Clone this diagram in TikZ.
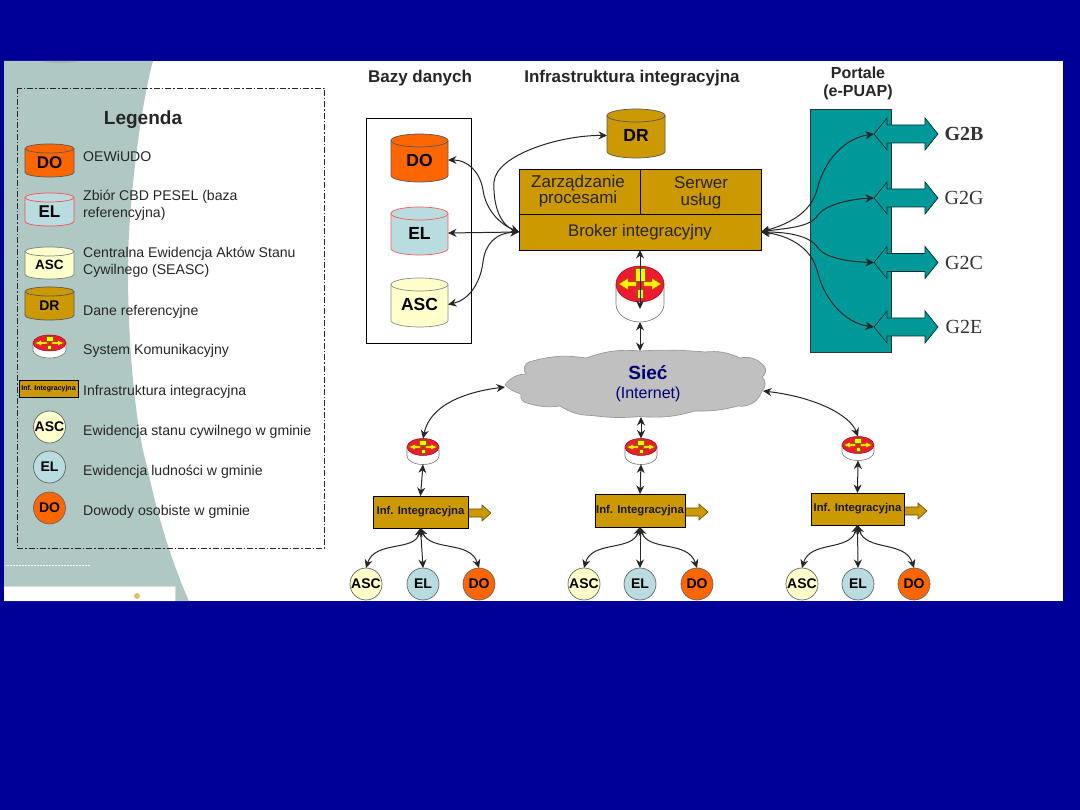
\documentclass[tikz,border=0pt]{standalone}
\usepackage{fontspec}
\setmainfont{Liberation Sans}
\newfontfamily\serifg{Liberation Serif}
\usetikzlibrary{arrows.meta}
\definecolor{navybg}{HTML}{000099}
\definecolor{sage}{HTML}{B0C8C4}
\definecolor{orangedb}{HTML}{FF6600}
\definecolor{bluedb}{HTML}{B8DCE0}
\definecolor{yellowdb}{HTML}{FFFFCC}
\definecolor{golddb}{HTML}{CC9900}
\definecolor{tealp}{HTML}{009999}
\definecolor{routerred}{HTML}{EE1C2E}
\definecolor{routeryel}{HTML}{FFF000}
\definecolor{cloudgrey}{HTML}{C0C0C0}
\newcommand{\fs}[1]{\fontsize{#1}{#1}\selectfont}
\tikzset{
  conn/.style={<->,>={Stealth[length=8.5pt,width=8pt]},line width=1pt,color=black!85},
  goldbox/.style={draw=black,fill=golddb,line width=0.9pt,inner sep=0pt,outer sep=0pt},
  gcircle/.style={circle,draw=black!60,line width=0.7pt,inner sep=0pt,outer sep=0pt,minimum size=32pt,font=\fs{14}\bfseries},
  legtext/.style={anchor=west,inner sep=0pt,text=black!85,font=\fs{14.1}},
  head/.style={inner sep=0pt,text=black!85,font=\fs{17}\bfseries,align=center},
  gtext/.style={inner sep=0pt,text=black!80,font=\fs{20}\serifg},
  brokertext/.style={inner sep=0pt,text=black!85,align=center,font=\fs{17}},
  tealarrow/.style={draw=black!70!tealp,fill=tealp,line width=0.7pt},
  goldarrow/.style={draw=black!50!golddb,fill=golddb,line width=0.6pt},
}
\newcommand{\cylry}{6}
\newcommand{\cyl}[9]{%
  \pgfmathsetmacro{\cl}{#2-#5}\pgfmathsetmacro{\cr}{#2+#5}%
  \pgfmathsetmacro{\ct}{#3+\cylry}\pgfmathsetmacro{\cb}{#4-\cylry}%
  \pgfmathsetmacro{\ctm}{(#3+#4)/2+2}%
  \pgfmathsetmacro{\ch}{#4-#3}\pgfmathsetmacro{\cw}{2*#5}%
  \draw[fill=#6,draw=#7,line width=0.7pt] (\cl,\ct) -- (\cl,\cb) arc[start angle=180,end angle=360,x radius=#5pt,y radius=\cylry pt] -- (\cr,\ct) arc[start angle=0,end angle=180,x radius=#5pt,y radius=\cylry pt] -- cycle;
  \draw[draw=#7,line width=0.7pt] (\cl,\ct) arc[start angle=180,end angle=360,x radius=#5pt,y radius=\cylry pt];
  \node[inner sep=0pt,outer sep=0pt,minimum width=\cw pt,minimum height=\ch pt,font=\fs{#9}\bfseries,text=black] (#1) at (#2,\ctm) {#8};
}
\newcommand{\router}[6]{%
  \pgfmathsetmacro{\rb}{#3+#6}\pgfmathsetmacro{\rm}{#3+#6/2}%
  \pgfmathsetmacro{\rl}{#2-#4}\pgfmathsetmacro{\rr}{#2+#4}%
  \pgfmathsetmacro{\rh}{2*#5+#6}\pgfmathsetmacro{\rw}{2*#4}%
  \draw[fill=white,draw=black!55,line width=0.6pt] (\rl,#3) -- (\rl,\rb) arc[start angle=180,end angle=360,x radius=#4pt,y radius=#5pt] -- (\rr,#3) -- cycle;
  \draw[fill=routerred,draw=black!40!routerred,line width=0.5pt] (#2,#3) ellipse[x radius=#4pt,y radius=#5pt];
  \begin{scope}[shift={(#2,#3)},x=#4pt,y=#5pt,fill=routeryel,draw=black!55!routeryel,line width=0.4pt]
    \filldraw (.15,-.12) -- (.5,-.12) -- (.5,-.32) -- (.88,0) -- (.5,.32) -- (.5,.12) -- (.15,.12) -- cycle;
    \filldraw (-.15,-.12) -- (-.5,-.12) -- (-.5,-.32) -- (-.88,0) -- (-.5,.32) -- (-.5,.12) -- (-.15,.12) -- cycle;
    \filldraw (-.13,-.3) -- (-.13,-.78) -- (.13,-.78) -- (.13,-.3) -- cycle;
    \filldraw (-.22,.18) -- (-.22,.85) -- (.22,.85) -- (.22,.18) -- cycle;
  \end{scope}
  \node[inner sep=0pt,outer sep=0pt,minimum width=\rw pt,minimum height=\rh pt] (#1) at (#2,\rm) {};
}
\newcommand{\duplex}[4]{%
  \pgfmathsetmacro{\a}{#2-16}\pgfmathsetmacro{\bb}{#2-9}\pgfmathsetmacro{\c}{#2+9}\pgfmathsetmacro{\d}{#2+16}%
  \draw[tealarrow] (874,#2) -- (887,\a) -- (887,\bb) -- (925,\bb) -- (925,\a) -- (938,#2) -- (925,\d) -- (925,\c) -- (887,\c) -- (887,\d) -- cycle;
  \coordinate (#1) at (874,#2);
  \node[gtext] (#1t) at (964,#2) {#4#3};
}
\newcommand{\infbox}[6]{%
  \pgfmathsetmacro{\au}{#6-4}\pgfmathsetmacro{\ad}{#6+4}\pgfmathsetmacro{\hu}{#6-8}\pgfmathsetmacro{\hd}{#6+8}%
  \pgfmathsetmacro{\ax}{#3+14}\pgfmathsetmacro{\ae}{#3+23}%
  \draw[goldarrow] (#3,\au) -- (\ax,\au) -- (\ax,\hu) -- (\ae,#6) -- (\ax,\hd) -- (\ax,\ad) -- (#3,\ad) -- cycle;
  \pgfmathsetmacro{\bx}{(#2+#3)/2}\pgfmathsetmacro{\by}{(#4+#5)/2}\pgfmathsetmacro{\bw}{#3-#2}\pgfmathsetmacro{\bh}{#5-#4}%
  \node[goldbox,minimum width=\bw pt,minimum height=\bh pt,font=\fs{11.3}\bfseries,text=black!90] (#1) at (\bx,\by) {Inf. Integracyjna};
}
\begin{document}
\begin{tikzpicture}[x=1pt,y=-1pt]
\useasboundingbox (0,0) rectangle (1080,810);
\fill[navybg] (0,0) rectangle (1080,810);
\fill[white] (4,61) rectangle (1063,601);
\fill[sage] (4,61) -- (153,61) .. controls (142,100) and (128,200) .. (128,270) .. controls (128,350) and (136,430) .. (148,470) .. controls (158,520) and (175,570) .. (189,601) -- (4,601) -- cycle;
\fill[black!45,opacity=.35] (42,61) .. controls (50,64) and (70,64) .. (78,61) -- cycle;
\draw[white!85!sage,line width=0.5pt,densely dotted] (5,565) -- (90,565);
\fill[white] (4,586) rectangle (175,601);
\draw[black!15,line width=0.7pt] (4,586) -- (175,586) -- (175,601);
\fill[golddb!60] (137,596) circle[radius=3pt];
\draw[black!85,line width=0.8pt,dash pattern=on 6pt off 2pt on 1.5pt off 2pt] (17,88) rectangle (324,548);
\node[inner sep=0pt,font=\fs{19}\bfseries,text=black!85] (legendtitle) at (143,120) {Legenda};
\renewcommand{\cylry}{4.5}
\cyl{lDO}{49.5}{144}{177}{24.5}{orangedb}{black!65}{DO}{17}
\cyl{lEL}{49.5}{193}{226}{24.5}{bluedb}{red!70!white}{EL}{17}
\cyl{lASC}{49.5}{247}{279}{24.5}{yellowdb}{black!50}{ASC}{13.5}
\cyl{lDR}{49.5}{287}{320}{24.5}{golddb}{black!65}{DR}{14}
\router{lR}{49.5}{343}{16.5}{8}{7}
\node[goldbox,minimum width=59pt,minimum height=17pt,font=\fs{7}\bfseries,text=black] (lInf) at (48.5,388.5) {Inf. Integracyjna};
\node[gcircle,fill=yellowdb] (lcA) at (49.5,427) {ASC};
\node[gcircle,fill=bluedb] (lcE) at (49.5,467) {EL};
\node[gcircle,fill=orangedb] (lcD) at (49.5,508) {DO};
\node[legtext] (t1) at (83,156) {OEWiUDO};
\node[legtext] (t2) at (83,197) {Zbiór CBD PESEL (baza};
\node[legtext] (t2b) at (83,214) {referencyjna)};
\node[legtext] (t3) at (83,254) {Centralna Ewidencja Aktów Stanu};
\node[legtext] (t3b) at (83,271) {Cywilnego (SEASC)};
\node[legtext] (t4) at (83,312) {Dane referencyjne};
\node[legtext] (t5) at (83,351) {System Komunikacyjny};
\node[legtext] (t6) at (83,392) {Infrastruktura integracyjna};
\node[legtext] (t7) at (83,432) {Ewidencja stanu cywilnego w gminie};
\node[legtext] (t8) at (83,472) {Ewidencja ludności w gminie};
\node[legtext] (t9) at (83,512) {Dowody osobiste w gminie};
\node[head] (h1) at (420,78) {Bazy danych};
\node[head] (h2) at (632,78) {Infrastruktura integracyjna};
\node[head,font=\fs{16}\bfseries] (h3) at (858,73) {Portale};
\node[head,font=\fs{16}\bfseries] (h3b) at (858,92) {(e-PUAP)};
\node[draw=black,line width=0.8pt,minimum width=105.5pt,minimum height=225pt,inner sep=0pt,outer sep=0pt] (dbbox) at (418.75,230.5) {};
\renewcommand{\cylry}{6.5}
\cyl{DO}{419.5}{134}{182}{28.5}{orangedb}{black!65}{DO}{17.5}
\cyl{EL}{419.5}{207}{255}{28.5}{bluedb}{red!65!white}{EL}{17.5}
\cyl{ASC}{419.5}{278}{327}{28.5}{yellowdb}{black!45}{ASC}{17.5}
\cyl{DR}{636}{109}{158}{29}{golddb}{black!65}{DR}{17.5}
\node[goldbox,minimum width=121.5pt,minimum height=45pt] (zp) at (579.75,191.5) {};
\node[goldbox,minimum width=120.5pt,minimum height=45pt] (su) at (700.75,191.5) {};
\node[goldbox,minimum width=242pt,minimum height=36pt] (broker) at (640,232) {};
\node[brokertext,font=\fs{16.8}] (brokert) at (640,232) {Broker integracyjny};
\node[brokertext] (zp1) at (578,183) {Zarządzanie};
\node[brokertext] (zp2) at (578,199) {procesami};
\node[brokertext] (su1) at (701,183) {Serwer};
\node[brokertext] (su2) at (701,201) {usług};
\node[draw=black!80,fill=tealp,line width=0.8pt,minimum width=81pt,minimum height=243pt,inner sep=0pt,outer sep=0pt] (portal) at (850.5,230.5) {};
\duplex{gb}{134}{G2B}{\bfseries}
\duplex{gg}{198}{G2G}{}
\duplex{gc}{262.5}{G2C}{}
\duplex{ge}{327}{G2E}{}
\router{bigr}{640}{284}{24}{18}{20}
\coordinate (bigm) at (640,309);
\draw[fill=cloudgrey,draw=black!40,line width=0.7pt]
 (505,385) to[bend left=25] (526,374) to[bend left=60] (529,362) to[bend left=12] (586,358)
 to[bend left=12] (640,351) to[bend left=4] (705,352) to[bend left=15] (740,358)
 to[bend left=30] (764,366) to[bend left=50] (762,377) to[bend left=50] (762,391)
 to[bend left=40] (738,406) to[bend left=8] (695,411) to[bend left=10] (640,416.5)
 to[bend left=6] (592,415.5) to[bend left=15] (560,406) to[bend left=12] (527,403)
 to[bend left=50] (521,394) to[bend left=12] cycle;
\coordinate (cloudtop) at (640,351);
\coordinate (cloudl) at (505,387);
\coordinate (cloudb) at (641,417);
\coordinate (cloudr) at (763,391);
\node[inner sep=0pt,font=\fs{19}\bfseries,text=navybg!75!black] (siec) at (648,373) {Sieć};
\node[inner sep=0pt,font=\fs{16},text=navybg!75!black] (inet) at (648,394) {(Internet)};
\router{r1}{423}{447}{16}{8.5}{9}
\router{r2}{641}{447}{16}{8.5}{9}
\router{r3}{858}{445}{16}{8.5}{7}
\infbox{b1}{373}{468}{496}{528}{513}
\infbox{b2}{595}{685}{494}{527}{512}
\infbox{b3}{811}{904}{493}{525}{511}
\node[gcircle,fill=yellowdb] (a1) at (366,584) {ASC};
\node[gcircle,fill=bluedb] (e1) at (423,584) {EL};
\node[gcircle,fill=orangedb] (d1) at (479,584) {DO};
\node[gcircle,fill=yellowdb] (a2) at (584,584) {ASC};
\node[gcircle,fill=bluedb] (e2) at (640,584) {EL};
\node[gcircle,fill=orangedb] (d2) at (697,584) {DO};
\node[gcircle,fill=yellowdb] (a3) at (802,584) {ASC};
\node[gcircle,fill=bluedb] (e3) at (858,584) {EL};
\node[gcircle,fill=orangedb] (d3) at (914,584) {DO};
\draw[conn] (broker.west) .. controls (495,222) and (485,205) .. (483,190) .. controls (480,172) and (468,160) .. (DO.east);
\draw[conn] (broker.west) -- (EL.east);
\draw[conn] (broker.west) .. controls (495,233) and (485,245) .. (483,262) .. controls (480,285) and (468,300) .. (ASC.east);
\draw[conn] (broker.west) .. controls (500,225) and (493,205) .. (494,182) .. controls (496,155) and (560,135) .. (DR.west);
\draw[conn] (broker.east) .. controls (785,225) and (810,215) .. (817,190) .. controls (824,160) and (845,138) .. (gb);
\draw[conn] (broker.east) .. controls (785,228) and (810,228) .. (818,215) .. controls (825,205) and (850,199) .. (gg);
\draw[conn] (broker.east) .. controls (785,232) and (810,235) .. (818,248) .. controls (825,258) and (850,262) .. (gc);
\draw[conn] (broker.east) .. controls (785,235) and (810,245) .. (817,270) .. controls (824,300) and (845,323) .. (ge);
\draw[conn] (broker.south) -- (bigm);
\draw[conn] (bigr.south) -- (cloudtop);
\draw[conn] (cloudl) .. controls (465,392) and (430,405) .. (r1.north);
\draw[conn] (cloudb) -- (r2.north);
\draw[conn] (cloudr) .. controls (815,397) and (850,415) .. (r3.north);
\draw[conn] (r1.south) -- (b1.north);
\draw[conn] (r2.south) -- (b2.north);
\draw[conn] (r3.south) -- (b3.north);
\draw[conn] (b1.south) .. controls (415,552) and (375,540) .. (a1.north);
\draw[conn] (b1.south) -- (e1.north);
\draw[conn] (b1.south) .. controls (431,552) and (470,540) .. (d1.north);
\draw[conn] (b2.south) .. controls (632,552) and (592,540) .. (a2.north);
\draw[conn] (b2.south) -- (e2.north);
\draw[conn] (b2.south) .. controls (648,552) and (688,540) .. (d2.north);
\draw[conn] (b3.south) .. controls (850,552) and (810,540) .. (a3.north);
\draw[conn] (b3.south) -- (e3.north);
\draw[conn] (b3.south) .. controls (866,552) and (905,540) .. (d3.north);
\end{tikzpicture}
\end{document}
